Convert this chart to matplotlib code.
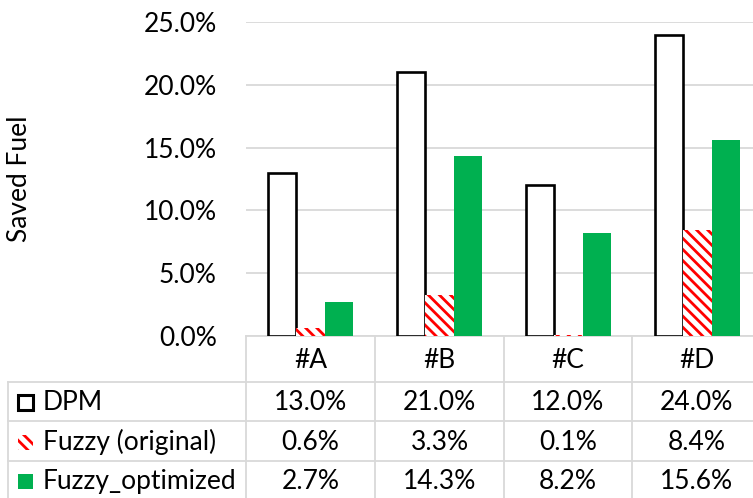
import matplotlib
matplotlib.use("Agg")
import matplotlib.pyplot as plt
import numpy as np
from matplotlib.patches import Rectangle
from matplotlib.lines import Line2D
from matplotlib.ticker import FuncFormatter

categories = ["#A", "#B", "#C", "#D"]
series_names = ["DPM", "Fuzzy (original)", "Fuzzy_optimized"]
dpm = [13.0, 21.0, 12.0, 24.0]
fuzzy_orig = [0.6, 3.3, 0.1, 8.4]
fuzzy_opt = [2.7, 14.3, 8.2, 15.6]
yticks = [0, 5, 10, 15, 20, 25]

W, H = 753, 498
plt.rcParams['font.family'] = ['Lato', 'DejaVu Sans']
plt.rcParams['hatch.linewidth'] = 2.0
FS = 19

fig = plt.figure(figsize=(W / 100, H / 100), dpi=100)

def fx(x):
    return x / W

def fy(y):
    return 1 - y / H

ax_left, ax_right = 246, 762
ax_top, ax_bot = 22, 336
ax = fig.add_axes([fx(ax_left), fy(ax_bot), (ax_right - ax_left) / W, (ax_bot - ax_top) / H])

x = np.arange(len(categories))
bw = 0.22
grid_c = "#d9d9d9"
green = "#00b050"

ax.bar(x - bw, dpm, bw, facecolor="white", edgecolor="black", linewidth=1.9, zorder=3)
ax.bar(x, fuzzy_orig, bw, facecolor="white", edgecolor="#ff0000", hatch="\\\\\\", linewidth=0, zorder=3)
ax.bar(x + bw, fuzzy_opt, bw, facecolor=green, edgecolor=green, linewidth=0, zorder=3)

ax.set_xlim(-0.5, len(categories) - 0.5)
ax.set_ylim(0, 25)
ax.set_yticks(yticks)
ax.yaxis.set_major_formatter(FuncFormatter(lambda v, p: f"{v:.1f}%"))
ax.set_xticks([])
ax.tick_params(axis='y', length=0, pad=21, labelsize=FS)
for s in ["top", "right", "left"]:
    ax.spines[s].set_visible(False)
ax.spines["bottom"].set_color(grid_c)
ax.spines["bottom"].set_linewidth(1.3)
ax.grid(axis='y', color=grid_c, linewidth=1.3, zorder=0)
ax.set_axisbelow(True)

fig.text(fx(20), fy(179), "Saved Fuel", rotation=90, ha="center", va="center", fontsize=FS)

# data table
row_lines = [382, 421, 461, 501]
col_lines = [246, 375, 504, 632, 761]
tbl_left = 8
lw = 1.3
for yl in row_lines:
    fig.add_artist(Line2D([fx(tbl_left), fx(W + 10)], [fy(yl), fy(yl)], color=grid_c, lw=lw))
fig.add_artist(Line2D([fx(tbl_left), fx(tbl_left)], [fy(382), fy(510)], color=grid_c, lw=lw))
for xl in col_lines:
    fig.add_artist(Line2D([fx(xl), fx(xl)], [fy(336), fy(510)], color=grid_c, lw=lw))

header_y = 360
row_y = [402, 442, 481]
col_c = [(col_lines[i] + col_lines[i + 1]) / 2 for i in range(len(categories))]
for i, c in enumerate(categories):
    fig.text(fx(col_c[i]), fy(header_y), c, ha="center", va="center", fontsize=FS)

all_series = [dpm, fuzzy_orig, fuzzy_opt]
for r, (name, vals) in enumerate(zip(series_names, all_series)):
    for i, v in enumerate(vals):
        fig.text(fx(col_c[i]), fy(row_y[r]), f"{v:.1f}%", ha="center", va="center", fontsize=FS)
    fig.text(fx(43), fy(row_y[r]), name, ha="left", va="center", fontsize=FS)

# legend keys
ks = 15
kx = 18
for r in range(3):
    yc = row_y[r]
    if r == 0:
        p = Rectangle((fx(kx), fy(yc + ks / 2)), ks / W, ks / H, facecolor="white", edgecolor="black", lw=2.2, transform=fig.transFigure)
    elif r == 1:
        p = Rectangle((fx(kx), fy(yc + ks / 2)), ks / W, ks / H, facecolor="white", edgecolor="#ff0000", hatch="\\\\\\", lw=0, transform=fig.transFigure)
    else:
        p = Rectangle((fx(kx), fy(yc + ks / 2)), ks / W, ks / H, facecolor=green, edgecolor=green, lw=0, transform=fig.transFigure)
    fig.add_artist(p)

fig.savefig("out.png", dpi=100)
